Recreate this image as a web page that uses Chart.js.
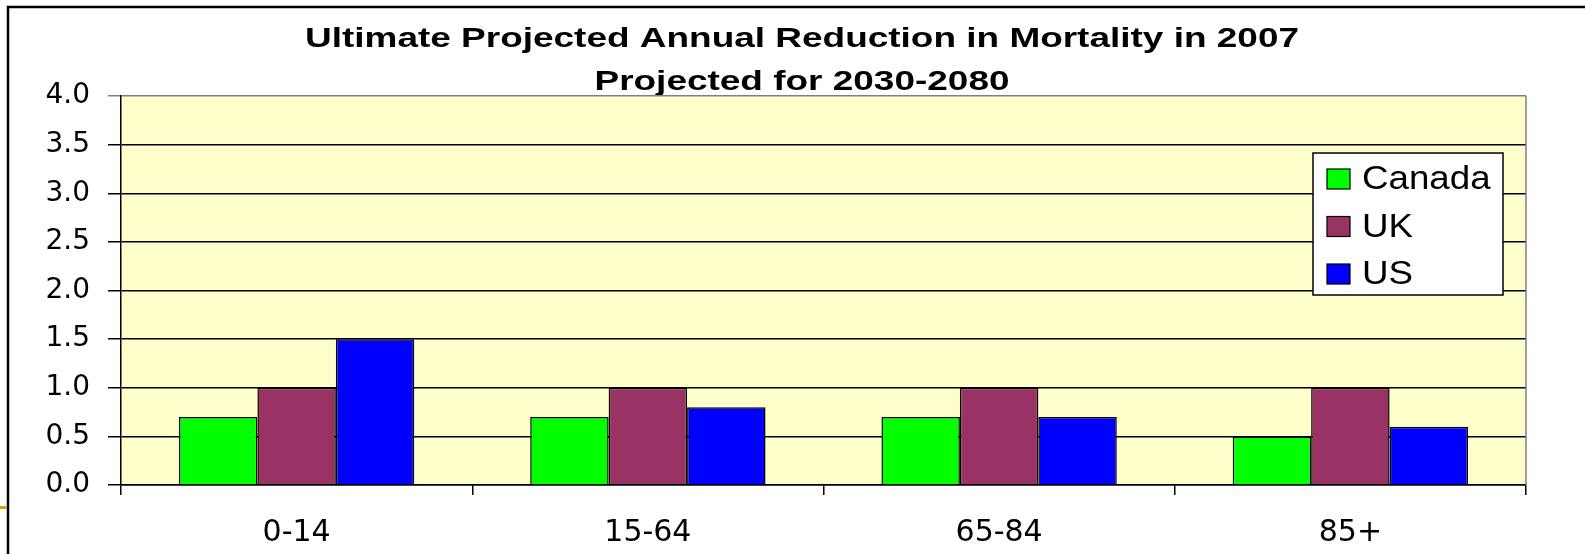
<!DOCTYPE html>
<html>
<head>
<meta charset="utf-8">
<script src="https://cdn.jsdelivr.net/npm/chart.js@4/dist/chart.umd.min.js"></script>
<style>
  body { margin: 0; background: #fff; }
  canvas { display: block; }
</style>
</head>
<body>
<canvas id="myChart" width="1585" height="554"></canvas>
<script>
// donnees
const categories = ['0-14', '15-64', '65-84', '85+'];
const canada = [0.7, 0.7, 0.7, 0.5];
const uk = [1.0, 1.0, 1.0, 1.0];
const us = [1.5, 0.8, 0.7, 0.6];
const seriesNames = ['Canada', 'UK', 'US'];
const seriesColors = ['#00FF00', '#993366', '#0000FF'];
const titleLines = ['Ultimate Projected Annual Reduction in Mortality in 2007', 'Projected for 2030-2080'];

// cadre, fond jaune de la zone de trace, titre etire
const frame = {
  id: 'frame',
  beforeDraw(chart) {
    const c = chart.ctx;
    const a = chart.chartArea;
    c.save();
    c.fillStyle = '#FFFFCC';
    c.fillRect(a.left, a.top, a.right - a.left, a.bottom - a.top);
    c.strokeStyle = '#000';
    c.lineWidth = 2.5;
    c.beginPath();
    c.moveTo(1585, 7);
    c.lineTo(8, 7);
    c.lineTo(8, 554);
    c.stroke();
    c.fillStyle = '#D4A017';
    c.fillRect(0, 506, 7, 3);

    // titre (texte etire horizontalement comme dans l'original)
    c.fillStyle = '#000';
    c.font = 'bold 28px "Liberation Sans", Arial';
    c.textAlign = 'center';
    c.textBaseline = 'alphabetic';
    c.translate(802, 0);
    c.scale(1.32, 1);
    c.fillText(titleLines[0], 0, 47);
    c.fillText(titleLines[1], 0, 90);
    c.restore();
  },
  afterDatasetsDraw(chart) {
    const c = chart.ctx;
    const a = chart.chartArea;
    c.save();
    c.strokeStyle = '#808080';
    c.lineWidth = 1.5;
    c.beginPath();
    c.moveTo(a.right, a.top);
    c.lineTo(a.right, a.bottom);
    c.stroke();
    c.restore();
  }
};

// legende dans la zone de trace
const boxLegend = {
  id: 'boxLegend',
  afterDraw(chart) {
    const c = chart.ctx;
    c.save();
    c.fillStyle = '#fff';
    c.fillRect(1313, 153, 190, 142);
    c.strokeStyle = '#000';
    c.lineWidth = 1.5;
    c.strokeRect(1313, 153, 190, 142);
    c.textBaseline = 'middle';
    chart.data.datasets.forEach(function(ds, i) {
      const y = 179 + i * 47.5;
      c.fillStyle = ds.backgroundColor;
      c.fillRect(1327, y - 10, 23, 20);
      c.strokeStyle = '#000';
      c.lineWidth = 1.2;
      c.strokeRect(1327, y - 10, 23, 20);
      c.save();
      c.fillStyle = '#000';
      c.font = '34px "Liberation Sans", Arial';
      c.translate(1362, y + 1);
      c.scale(1.08, 1);
      c.fillText(ds.label, 0, 0);
      c.restore();
    });
    c.restore();
  }
};

const ctx = document.getElementById('myChart').getContext('2d');

const config = {
  type: 'bar',
  data: {
    labels: categories,
    datasets: [canada, uk, us].map(function(vals, i) {
      return {
        label: seriesNames[i],
        data: vals,
        backgroundColor: seriesColors[i],
        borderColor: '#000',
        borderWidth: 1.5,
        categoryPercentage: 0.67,
        barPercentage: 1.0
      };
    })
  },
  options: {
    responsive: false,
    animation: false,
    layout: { padding: { left: 7, right: 59, top: 96, bottom: 0 } },
    plugins: {
      legend: { display: false },
      tooltip: { enabled: false },
      title: { display: false }
    },
    scales: {
      x: {
        grid: {
          display: true,
          drawOnChartArea: false,
          drawTicks: true,
          tickLength: 10,
          color: '#000',
          lineWidth: 1.5,
          offset: true
        },
        border: { display: true, color: '#000', width: 1.5 },
        ticks: {
          color: '#000',
          padding: 20,
          font: { family: '"DejaVu Sans"', size: 30 }
        },
        afterFit(scale) { scale.height = 69; }
      },
      y: {
        min: 0,
        max: 4,
        ticks: {
          stepSize: 0.5,
          color: '#000',
          padding: 18,
          font: { family: '"DejaVu Sans"', size: 28 },
          callback: function(v) { return Number(v).toFixed(1); }
        },
        grid: {
          color: function(c) { return c.tick && c.tick.value === 4 ? '#808080' : '#000'; },
          lineWidth: 1.5,
          tickLength: 13
        },
        border: { display: true, color: '#000', width: 1.5 },
        afterFit(scale) { scale.width = 114; }
      }
    }
  },
  plugins: [frame, boxLegend]
};

const chart = new Chart(ctx, config);
</script>
</body>
</html>
